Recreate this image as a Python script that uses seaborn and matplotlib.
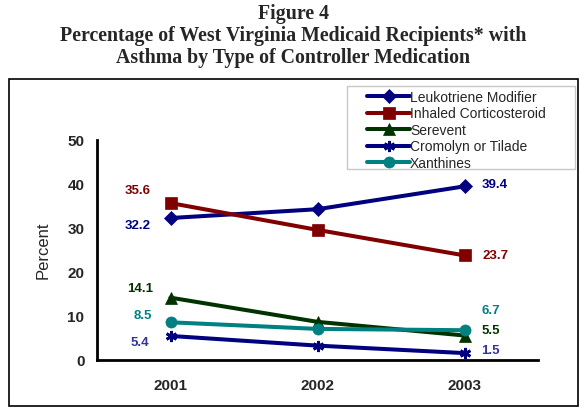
import numpy as np
import pandas as pd
import seaborn as sns
import matplotlib.pyplot as plt
from matplotlib.patches import Rectangle

# values
years = ['2001', '2002', '2003']
series_names = ['Leukotriene Modifier', 'Inhaled Corticosteroid', 'Serevent',
                'Cromolyn or Tilade', 'Xanthines']
leukotriene = [32.2, 34.2, 39.4]
inhaled = [35.6, 29.5, 23.7]
serevent = [14.1, 8.6, 5.5]
cromolyn = [5.4, 3.2, 1.5]
xanthines = [8.5, 7.0, 6.7]

rows = []
for name, vals in zip(series_names, [leukotriene, inhaled, serevent, cromolyn, xanthines]):
    for i, (yr, v) in enumerate(zip(years, vals)):
        rows.append({'series': name, 'year': yr, 'pos': i, 'value': v})
df = pd.DataFrame(rows)

line_colors = {'Leukotriene Modifier': '#000080', 'Inhaled Corticosteroid': '#800000',
               'Serevent': '#003300', 'Cromolyn or Tilade': '#000080', 'Xanthines': '#008080'}
label_colors = {'Leukotriene Modifier': '#000080', 'Inhaled Corticosteroid': '#800000',
                'Serevent': '#003300', 'Cromolyn or Tilade': '#333399', 'Xanthines': '#008080'}
markers = {'Leukotriene Modifier': 'D', 'Inhaled Corticosteroid': 's', 'Serevent': '^',
           'Cromolyn or Tilade': (6, 2, 0), 'Xanthines': 'o'}
msizes = {'Leukotriene Modifier': 7, 'Inhaled Corticosteroid': 8, 'Serevent': 8.5,
          'Cromolyn or Tilade': 8, 'Xanthines': 8}
# pixel offsets for the end labels (first point, last point)
first_off = {'Leukotriene Modifier': (-20, -7), 'Inhaled Corticosteroid': (-20, 13),
             'Serevent': (-17, 10), 'Cromolyn or Tilade': (-21, -6), 'Xanthines': (-19, 7)}
last_off = {'Leukotriene Modifier': (17, 2), 'Inhaled Corticosteroid': (18, 0),
            'Serevent': (17, 5), 'Cromolyn or Tilade': (17, 3), 'Xanthines': (17, 20)}

sns.set_theme(style='white')
plt.rcParams['font.family'] = ['Liberation Sans', 'DejaVu Sans']

fig = plt.figure(figsize=(5.86, 4.14), dpi=100)
ax = fig.add_axes([97 / 586, 1 - 360.7 / 414, 441 / 586, 220 / 414])

for name in series_names:
    sub = df[df['series'] == name]
    mk = markers[name]
    sns.lineplot(data=sub, x='pos', y='value', ax=ax, color=line_colors[name],
                 linewidth=2.9, marker=mk, markersize=msizes[name],
                 markeredgecolor=line_colors[name],
                 markeredgewidth=2 if mk == (6, 2, 0) else 0.5,
                 label=name, legend=False)
    vals = sub['value'].tolist()
    ax.annotate(f'{vals[0]:.1f}', (0, vals[0]), xytext=first_off[name],
                textcoords='offset pixels', ha='right', va='center',
                fontsize=9.5, fontweight='bold', color=label_colors[name])
    ax.annotate(f'{vals[-1]:.1f}', (len(vals) - 1, vals[-1]), xytext=last_off[name],
                textcoords='offset pixels', ha='left', va='center',
                fontsize=9.5, fontweight='bold', color=label_colors[name])

ax.set_xlim(-0.5, 2.5)
ax.set_ylim(0, 50)
ax.set_yticks(np.arange(0, 51, 10))
ax.set_xticks(range(len(years)))
ax.set_xticklabels(years)
ax.set_xticks([-0.5, 0.5, 1.5, 2.5], minor=True)
ax.tick_params(axis='x', which='major', length=0, pad=13, labelsize=11)
ax.tick_params(axis='x', which='minor', length=6, width=2, direction='out', color='black')
ax.tick_params(axis='y', length=6, width=2, direction='out', color='black', pad=3, labelsize=11)
for lab in ax.get_xticklabels() + ax.get_yticklabels():
    lab.set_fontweight('bold')
ax.set_xlabel('')
ax.set_ylabel('Percent', fontsize=12)
ax.yaxis.set_label_coords(-0.105, 0.5)
sns.despine(ax=ax)
for sp in ['left', 'bottom']:
    ax.spines[sp].set_linewidth(2)
    ax.spines[sp].set_color('black')

ax.legend(loc='upper left', bbox_to_anchor=(367 / 586, 1 - 91 / 414),
          bbox_transform=fig.transFigure, fontsize=10, frameon=False,
          handlelength=3.1, handletextpad=0.0, labelspacing=0.18, borderpad=0,
          borderaxespad=0)
# legend frame drawn separately (the original has wide side padding)
fig.add_artist(Rectangle((347 / 586, 1 - 170 / 414), 228 / 586, 83 / 414,
                         transform=fig.transFigure, fill=False, lw=1, ec='#c8c8c8'))

fig.text(0.5, 1 - 14 / 414, 'Figure 4', ha='center', va='center',
         family='Liberation Serif', fontweight='bold', fontsize=14.3)
fig.text(0.5, 1 - 35.5 / 414, 'Percentage of West Virginia Medicaid Recipients* with',
         ha='center', va='center', family='Liberation Serif', fontweight='bold', fontsize=14.3)
fig.text(0.5, 1 - 57.5 / 414, 'Asthma by Type of Controller Medication',
         ha='center', va='center', family='Liberation Serif', fontweight='bold', fontsize=14.3)

fig.add_artist(Rectangle((9 / 586, 1 - 407 / 414), 569 / 586, 327 / 414,
                         transform=fig.transFigure, fill=False, lw=1.2, ec='black'))

fig.savefig('out.png', dpi=100)
